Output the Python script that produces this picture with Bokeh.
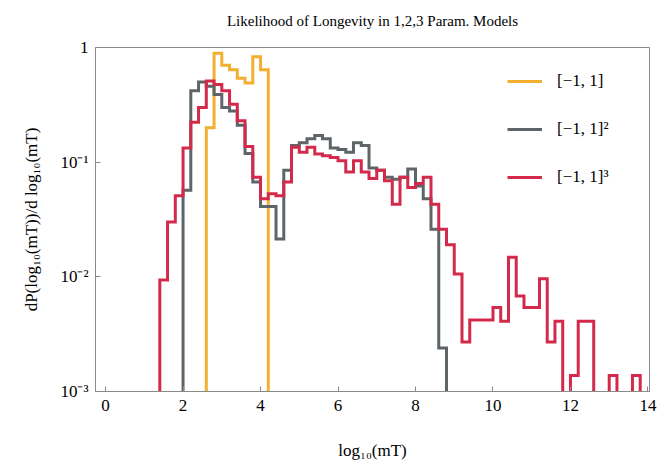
import numpy as np
from bokeh.plotting import figure
from bokeh.models import Range1d, FixedTicker, CustomJSTickFormatter, Title
from bokeh.embed import file_html
from bokeh.resources import INLINE

# ---- data ----
bin_width = 0.2

orange_start = 2.6
orange_vals = [0.20, 0.89, 0.70, 0.64, 0.54, 0.49, 0.83, 0.64]

gray_start = 2.0
gray_vals = [0.057, 0.42, 0.50, 0.46, 0.39, 0.30, 0.28, 0.21, 0.119, 0.067,
             0.041, 0.041, 0.0214, 0.085, 0.14, 0.148, 0.16, 0.171, 0.16, 0.133,
             0.129, 0.122, 0.148, 0.14, 0.089, 0.085, 0.074, 0.071, 0.074, 0.087,
             0.062, 0.048, 0.026, 0.0024]

red_start = 1.4
red_vals = [0.0094, 0.030, 0.051, 0.133, 0.223, 0.30, 0.51, 0.475, 0.42, 0.32,
            0.23, 0.137, 0.074, 0.048, 0.053, 0.051, 0.067, 0.135, 0.122, 0.135,
            0.118, 0.114, 0.110, 0.103, 0.082, 0.103, 0.082, 0.072, 0.085, 0.069,
            0.043, 0.074, 0.060, 0.065, 0.074, 0.043, 0.026, 0.019, 0.0106, 0.0027,
            0.0042, 0.0042, 0.0042, 0.0054, 0.0041, 0.0148, 0.0068, 0.0054, 0.0054, 0.0096,
            0.0027, 0.0041, 0.0, 0.00138, 0.0041, 0.0041, 0.0, 0.0, 0.00138, 0.0,
            0.0, 0.00138]

series_labels = ["[\u22121, 1]", "[\u22121, 1]\u00b2", "[\u22121, 1]\u00b3"]
series_colors = ["#F2AF30", "#5E6568", "#D3294B"]

x_ticks = [0, 2, 4, 6, 8, 10, 12, 14]
y_ticks = [0.001, 0.01, 0.1, 1.0]
y_tick_labels = ["10\u207b\u00b3", "10\u207b\u00b2", "10\u207b\u00b9", "1"]

title_text = "Likelihood of Longevity in 1,2,3 Param. Models"
x_label = "log\u2081\u2080(mT)"
y_label = "dP(log\u2081\u2080(mT))/d log\u2081\u2080(mT)"


def step_path(start, vals, floor=1e-9):
    v = np.asarray(vals, dtype=float)
    v = np.where(v > 0, v, floor)
    edges = start + bin_width * np.arange(len(v) + 1)
    xs = np.repeat(edges, 2)
    ys = np.concatenate([[floor], np.repeat(v, 2), [floor]])
    return xs, ys


SERIF = "Liberation Serif"

p = figure(
    frame_width=554, frame_height=344,
    x_range=Range1d(-0.26, 14.04), y_range=Range1d(1e-3, 1.0),
    y_axis_type="log",
    output_backend="svg", toolbar_location=None,
    min_border_left=95, min_border_right=11, min_border_top=47, min_border_bottom=70,
    title=title_text,
)
p.background_fill_color = "white"
p.border_fill_color = "white"
p.outline_line_color = "#8a8a8a"
p.xgrid.visible = False
p.ygrid.visible = False

p.title.align = "center"
p.title.text_font = SERIF
p.title.text_font_size = "15px"
p.title.text_font_style = "normal"
p.title.text_color = "black"
p.title.standoff = 0

# blank spacer panel between the title and the frame
spacer = Title(text=" ", text_font_size="16px", standoff=0)
p.add_layout(spacer, "above")

for s, vals, col, lab in zip([orange_start, gray_start, red_start],
                             [orange_vals, gray_vals, red_vals],
                             series_colors, series_labels):
    xs, ys = step_path(s, vals)
    p.line(xs, ys, line_color=col, line_width=3, line_join="miter", legend_label=lab)

p.xaxis.ticker = FixedTicker(ticks=x_ticks)
p.yaxis.ticker = FixedTicker(ticks=y_ticks)
p.yaxis.formatter = CustomJSTickFormatter(
    args=dict(vals=y_ticks, labs=y_tick_labels),
    code="""
const i = vals.findIndex(v => Math.abs(Math.log10(v) - Math.log10(tick)) < 1e-6);
return i >= 0 ? labs[i] : "";
""")

for ax in [p.xaxis[0], p.yaxis[0]]:
    ax.axis_line_color = "#8a8a8a"
    ax.major_tick_line_color = "#8a8a8a"
    ax.major_tick_in = 5
    ax.major_tick_out = 0
    ax.minor_tick_line_color = None
    ax.major_label_text_font = SERIF
    ax.major_label_text_font_size = "17px"
    ax.major_label_text_color = "black"
    ax.axis_label_text_font = SERIF
    ax.axis_label_text_font_size = "17px"
    ax.axis_label_text_font_style = "normal"
    ax.axis_label_text_color = "black"

p.xaxis.axis_label = x_label
p.yaxis.axis_label = y_label
p.xaxis.major_label_standoff = 8
p.yaxis.major_label_standoff = 7
p.xaxis.axis_label_standoff = 27
p.yaxis.axis_label_standoff = 16

lg = p.legend[0]
lg.location = (412, 204)
lg.background_fill_alpha = 0
lg.border_line_color = None
lg.padding = 0
lg.margin = 0
lg.spacing = 28
lg.glyph_width = 35
lg.glyph_height = 20
lg.label_height = 20
lg.label_standoff = 15
lg.label_text_font = SERIF
lg.label_text_font_size = "17px"
lg.label_text_color = "black"

open("out.html", "w").write(file_html(p, INLINE))
